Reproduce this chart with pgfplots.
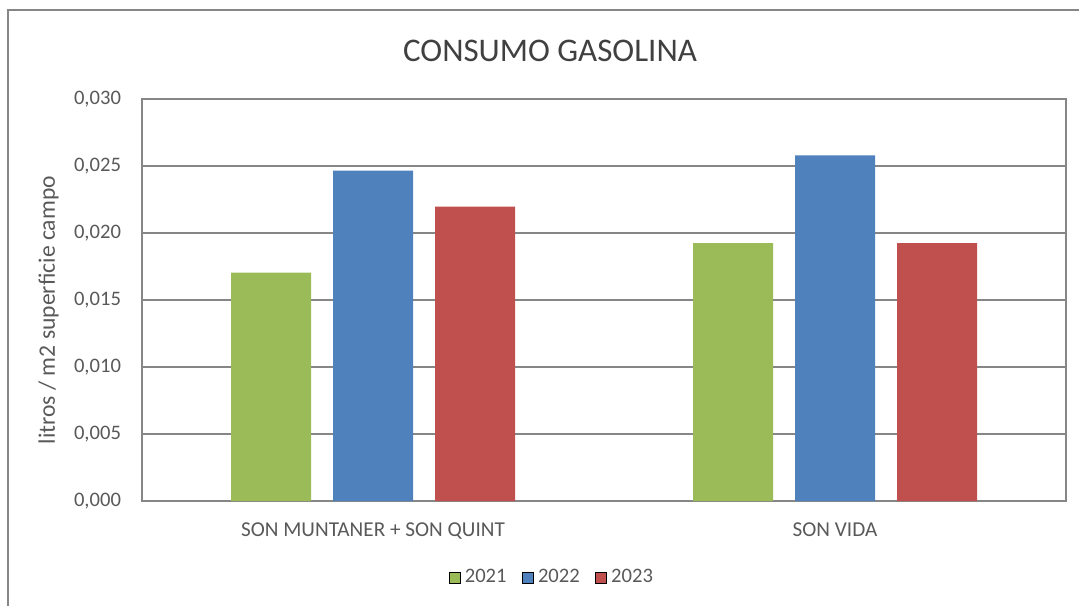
\documentclass[border=0pt]{standalone}
\usepackage{fontspec}
\setmainfont{Carlito}
\usepackage{pgfplots}
\pgfplotsset{compat=1.18}

\definecolor{c2021}{HTML}{9BBB59}
\definecolor{c2022}{HTML}{4F81BD}
\definecolor{c2023}{HTML}{C0504D}
\definecolor{framegray}{HTML}{868686}
\definecolor{txt}{HTML}{595959}

\begin{document}
\begin{tikzpicture}
% 1 unit = 1 px of the 1079x605 reference
\begin{scope}[x=0.5pt,y=0.5pt]
  \useasboundingbox (0,0) rectangle (1079,605);
  \draw[framegray, line width=0.75pt] (8,-20) -- (8,595) -- (1100,595);
  \node[text=black!75, font=\fontsize{16.5}{19}\selectfont] at (550,554) {CONSUMO GASOLINA};
\end{scope}

\begin{axis}[
    at={(71pt,52pt)}, anchor=south west,
    scale only axis,
    width=462pt, height=201pt,
    ybar=11pt, bar width=40pt,
    xmin=-0.5, xmax=1.5,
    ymin=0, ymax=0.03,
    xtick={0,1},
    xticklabels={SON MUNTANER + SON QUINT, SON VIDA},
    ytick={0,0.005,0.010,0.015,0.020,0.025,0.030},
    scaled y ticks=false,
    yticklabel style={xshift=-7pt, /pgf/number format/.cd, fixed, fixed zerofill, precision=3, use comma, assume math mode=true},
    xticklabel style={yshift=-7.5pt, font=\fontsize{10.6}{12}\selectfont},
    ymajorgrids=true,
    grid style={framegray, line width=0.75pt},
    axis line style={framegray, line width=0.75pt},
    major tick length=0pt,
    tick label style={text=txt, font=\fontsize{10.3}{12}\selectfont},
    ylabel={litros / m2 superficie campo},
    every axis y label/.style={at={(axis description cs:-0.1012,0.475)}, rotate=90, anchor=center, text=txt, font=\fontsize{11.8}{13}\selectfont},
    legend columns=-1,
    legend image code/.code={\draw[#1] (0pt,-2.75pt) rectangle (5.5pt,2.75pt);},
    legend style={at={(axis description cs:0.4448,-0.1903)}, anchor=center, draw=none, fill=none,
        font=\fontsize{10.3}{12}\selectfont, text=txt,
        /tikz/every even column/.append style={column sep=5.8pt}},
]
\addplot[fill=c2021, draw=none] coordinates {(0,0.01704) (1,0.01925)};
\addplot[fill=c2022, draw=none] coordinates {(0,0.02465) (1,0.02580)};
\addplot[fill=c2023, draw=none] coordinates {(0,0.02196) (1,0.01925)};
\legend{2021,2022,2023}
\end{axis}
\end{tikzpicture}
\end{document}
